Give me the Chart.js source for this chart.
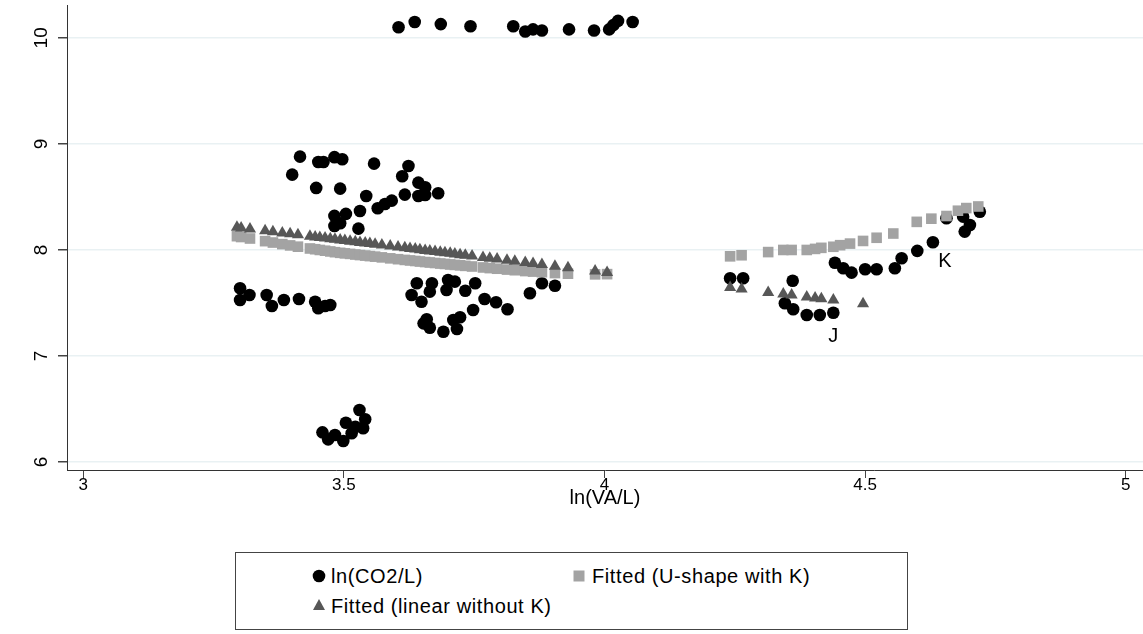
<!DOCTYPE html>
<html lang="en">
<head>
<meta charset="UTF-8">
<title>ln(CO2/L) vs ln(VA/L)</title>
<script src="https://cdn.jsdelivr.net/npm/chart.js"></script>
<style>
  body { margin: 0; background: #fff; }
  #wrap { position: relative; width: 1143px; height: 634px; font-family: 'Liberation Sans', Arial, sans-serif; }
  #legend { position: absolute; left: 235px; top: 552px; width: 673px; height: 78px; border: 1px solid #444; box-sizing: border-box; }
  .item { position: absolute; font-size: 20px; letter-spacing: 0.6px; color: #000; line-height: 22px; white-space: nowrap; }
  .sym { position: absolute; }
</style>
</head>
<body>
<div id="wrap">
  <canvas id="chart" width="1143" height="516"></canvas>
  <div id="legend">
    <svg class="sym" style="left:76px;top:16px" width="14" height="14"><circle cx="7" cy="7" r="6.3" fill="#000"/></svg>
    <div class="item" style="left:95px;top:12px">ln(CO2/L)</div>
    <svg class="sym" style="left:337px;top:17px" width="12" height="12"><rect x="0.5" y="0.5" width="11" height="11" fill="#a3a3a3"/></svg>
    <div class="item" style="left:356px;top:12px">Fitted (U-shape with K)</div>
    <svg class="sym" style="left:76px;top:45px" width="14" height="13"><polygon points="7,1 13,12 1,12" fill="#575757"/></svg>
    <div class="item" style="left:95px;top:42px">Fitted (linear without K)</div>
  </div>
</div>

<script>
// observed ln(CO2/L) against ln(VA/L)
var co2X = [3.605, 3.636, 3.686, 3.743, 3.825, 3.848, 3.863, 3.880, 3.932, 3.980, 4.009, 4.017, 4.026, 4.054,
  3.416, 3.401, 3.451, 3.461, 3.482, 3.497, 3.558, 3.624, 3.612, 3.447, 3.493, 3.543, 3.643, 3.656,
  3.617, 3.643, 3.656, 3.681, 3.592, 3.579, 3.565, 3.531, 3.504, 3.482, 3.482, 3.493, 3.528,
  3.301, 3.301, 3.319, 3.352, 3.362, 3.385, 3.414, 3.445, 3.451, 3.464, 3.474,
  3.640, 3.669, 3.630, 3.665, 3.649, 3.700, 3.713, 3.697, 3.733, 3.752, 3.770, 3.792, 3.814, 3.748,
  3.723, 3.710, 3.717, 3.691, 3.659, 3.653, 3.665, 3.857, 3.880, 3.905,
  3.459, 3.470, 3.483, 3.499, 3.504, 3.515, 3.530, 3.541, 3.537, 3.522,
  4.241, 4.266, 4.361, 4.346, 4.362, 4.388, 4.413, 4.439, 4.442, 4.458, 4.474, 4.500, 4.522,
  4.557, 4.570, 4.600, 4.630, 4.691, 4.701, 4.656, 4.688, 4.720];
var co2Y = [10.10, 10.15, 10.13, 10.11, 10.11, 10.06, 10.08, 10.07, 10.08, 10.07, 10.08, 10.12, 10.16, 10.15,
  8.88, 8.71, 8.83, 8.83, 8.875, 8.856, 8.814, 8.792, 8.695, 8.585, 8.578, 8.509, 8.635, 8.592,
  8.522, 8.509, 8.519, 8.535, 8.465, 8.434, 8.393, 8.368, 8.34, 8.321, 8.226, 8.252, 8.201,
  7.639, 7.528, 7.575, 7.575, 7.472, 7.528, 7.538, 7.512, 7.45, 7.472, 7.481,
  7.686, 7.686, 7.575, 7.607, 7.512, 7.717, 7.701, 7.623, 7.616, 7.686, 7.538, 7.507, 7.441, 7.434,
  7.365, 7.34, 7.255, 7.229, 7.346, 7.308, 7.267, 7.592, 7.686, 7.663,
  6.28, 6.214, 6.255, 6.198, 6.371, 6.271, 6.491, 6.403, 6.318, 6.333,
  7.733, 7.733, 7.71, 7.497, 7.441, 7.387, 7.387, 7.408, 7.88, 7.827, 7.786, 7.818, 7.818,
  7.827, 7.922, 7.991, 8.073, 8.173, 8.236, 8.299, 8.314, 8.361];

// fitted values, left group
var fitLeftX = [3.295, 3.303, 3.320, 3.349, 3.364, 3.382, 3.397, 3.412, 3.435, 3.445, 3.454, 3.464, 3.474,
  3.483, 3.493, 3.502, 3.512, 3.522, 3.531, 3.541, 3.550, 3.560, 3.573, 3.589, 3.604, 3.617, 3.627,
  3.637, 3.646, 3.656, 3.665, 3.675, 3.685, 3.694, 3.704, 3.713, 3.723, 3.733, 3.746, 3.767, 3.780,
  3.794, 3.813, 3.828, 3.848, 3.863, 3.880, 3.905, 3.930, 3.982, 4.005];
var uLeftY = [8.130, 8.122, 8.108, 8.083, 8.070, 8.055, 8.043, 8.031, 8.014, 8.007, 8.000, 7.993, 7.986,
  7.979, 7.973, 7.968, 7.963, 7.957, 7.952, 7.947, 7.942, 7.937, 7.930, 7.921, 7.913, 7.906, 7.901,
  7.896, 7.891, 7.886, 7.882, 7.877, 7.872, 7.868, 7.863, 7.859, 7.855, 7.850, 7.844, 7.835, 7.829,
  7.823, 7.815, 7.809, 7.801, 7.796, 7.790, 7.782, 7.776, 7.770, 7.772];
var linLeftY = [8.213, 8.208, 8.198, 8.181, 8.172, 8.161, 8.152, 8.143, 8.129, 8.123, 8.118, 8.112, 8.106,
  8.100, 8.094, 8.089, 8.083, 8.077, 8.071, 8.065, 8.060, 8.054, 8.046, 8.037, 8.028, 8.020, 8.014,
  8.008, 8.002, 7.996, 7.991, 7.985, 7.979, 7.974, 7.968, 7.962, 7.956, 7.950, 7.942, 7.930, 7.922,
  7.914, 7.902, 7.893, 7.881, 7.872, 7.862, 7.847, 7.832, 7.801, 7.787];

// fitted values, right group (K has no linear fit)
var fitRightX = [4.241, 4.263, 4.314, 4.343, 4.359, 4.388, 4.404, 4.416, 4.439, 4.452, 4.471, 4.496, 4.522,
  4.554, 4.599, 4.627, 4.656, 4.678, 4.694, 4.717];
var uRightY = [7.94, 7.95, 7.98, 8.00, 8.00, 8.00, 8.01, 8.02, 8.03, 8.045, 8.06, 8.085, 8.115,
  8.155, 8.265, 8.295, 8.32, 8.37, 8.395, 8.41];
var linRightY = [7.645, 7.632, 7.600, 7.584, 7.575, 7.557, 7.548, 7.540, 7.527, null, null, 7.492, null,
  null, null, null, null, null, null, null];

var xTicks = [3, 3.5, 4, 4.5, 5];
var yTicks = [6, 7, 8, 9, 10];

// marker labels
var markNames = ['J', 'K'];
var markX = [4.439, 4.630];
var markY = [7.408, 8.073];

function toPoints(xs, ys) {
  var pts = [];
  for (var i = 0; i < xs.length; i++) {
    if (ys[i] !== null) pts.push({ x: xs[i], y: ys[i] });
  }
  return pts;
}

var FONT = "'Liberation Sans', Arial, sans-serif";

// y tick labels are rotated in the original, draw them here
var rotatedYLabels = {
  id: 'rotatedYLabels',
  afterDraw: function (chart) {
    var ctx = chart.ctx;
    var ys = chart.scales.y;
    ctx.save();
    ctx.fillStyle = '#000';
    ctx.font = '19px ' + FONT;
    ctx.textAlign = 'center';
    ctx.textBaseline = 'middle';
    yTicks.forEach(function (v) {
      var py = ys.getPixelForValue(v);
      ctx.save();
      ctx.translate(42, py);
      ctx.rotate(-Math.PI / 2);
      ctx.fillText(String(v), 0, 0);
      ctx.restore();
    });
    ctx.restore();
  }
};

var markLabels = {
  id: 'markLabels',
  afterDatasetsDraw: function (chart) {
    var ctx = chart.ctx;
    var xs = chart.scales.x, ys = chart.scales.y;
    var offs = [[0, 24], [12, 19]];
    ctx.save();
    ctx.fillStyle = '#000';
    ctx.font = '20px ' + FONT;
    ctx.textAlign = 'center';
    ctx.textBaseline = 'middle';
    for (var i = 0; i < markNames.length; i++) {
      var px = xs.getPixelForValue(markX[i]) + offs[i][0];
      var py = ys.getPixelForValue(markY[i]) + offs[i][1];
      ctx.fillText(markNames[i], px, py);
    }
    ctx.restore();
  }
};

var ctx = document.getElementById('chart');

var chart = new Chart(ctx, {
  type: 'scatter',
  data: {
    datasets: [
      {
        label: 'ln(CO2/L)',
        data: toPoints(co2X, co2Y),
        backgroundColor: '#000',
        borderColor: '#000',
        pointStyle: 'circle',
        pointRadius: 6.3,
        pointBorderWidth: 0,
        order: 3
      },
      {
        label: 'Fitted (U-shape with K)',
        data: toPoints(fitLeftX, uLeftY).concat(toPoints(fitRightX, uRightY)),
        backgroundColor: '#a3a3a3',
        borderColor: '#a3a3a3',
        pointStyle: 'rect',
        pointRadius: 7.5,
        pointBorderWidth: 0,
        order: 2
      },
      {
        label: 'Fitted (linear without K)',
        data: toPoints(fitLeftX, linLeftY).concat(toPoints(fitRightX, linRightY)),
        backgroundColor: '#575757',
        borderColor: '#575757',
        pointStyle: 'triangle',
        pointRadius: 7,
        pointBorderWidth: 0,
        order: 1
      }
    ]
  },
  options: {
    responsive: false,
    animation: false,
    devicePixelRatio: 1,
    layout: { autoPadding: false, padding: { top: 5, right: 0, left: 0, bottom: 0 } },
    plugins: {
      legend: { display: false },
      tooltip: { enabled: false }
    },
    scales: {
      x: {
        type: 'linear',
        min: 2.969,
        max: 5.033,
        afterBuildTicks: function (scale) {
          scale.ticks = xTicks.map(function (v) { return { value: v }; });
        },
        afterFit: function (scale) {
          scale.height = 46;
          scale.paddingLeft = 0;
          scale.paddingRight = 0;
        },
        grid: { drawOnChartArea: false, tickLength: 8, tickColor: '#444', lineWidth: 1 },
        border: { display: true, color: '#333', width: 1 },
        ticks: {
          color: '#000',
          padding: -3,
          font: { family: FONT, size: 17 },
          callback: function (v) { return String(v); }
        },
        title: {
          display: true,
          text: 'ln(VA/L)',
          color: '#000',
          font: { family: FONT, size: 20 },
          padding: { top: 0, bottom: 6 }
        }
      },
      y: {
        type: 'linear',
        min: 5.925,
        max: 10.31,
        afterBuildTicks: function (scale) {
          scale.ticks = yTicks.map(function (v) { return { value: v }; });
        },
        afterFit: function (scale) { scale.width = 67; },
        grid: { color: '#e9f1f3', lineWidth: 1.5, tickLength: 9, tickColor: '#444' },
        border: { display: true, color: '#333', width: 1 },
        ticks: { display: false }
      }
    }
  },
  plugins: [rotatedYLabels, markLabels]
});
</script>
</body>
</html>
